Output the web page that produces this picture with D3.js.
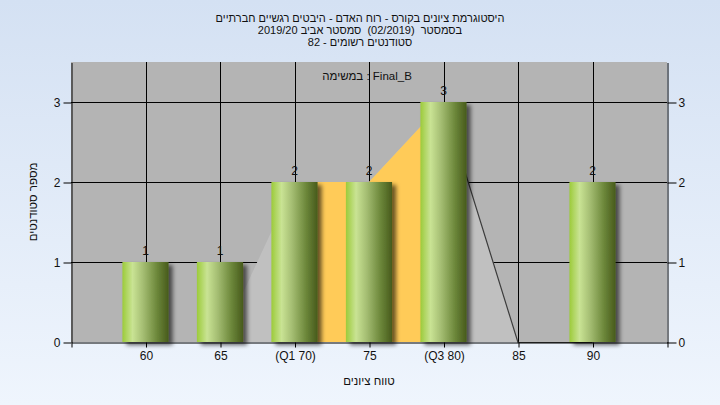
<!DOCTYPE html>
<html><head><meta charset="utf-8">
<script src="https://cdn.jsdelivr.net/npm/d3@7"></script>
<style>
html,body{margin:0;padding:0;overflow:hidden;}
svg{display:block;}
text{font-family:"Liberation Sans","DejaVu Sans",Arial,sans-serif;}
</style></head>
<body>
<svg id="c" width="720" height="405"></svg>
<script>
// ---- data ----
const titleLines = [
  "היסטוגרמת ציונים בקורס - רוח האדם - היבטים רגשיים חברתיים",
  "בסמסטר  (02/2019)  סמסטר אביב 2019/20",
  "סטודנטים רשומים - 82"
];
const seriesLabel = "במשימה : Final_B";
const yTitle = "מספר סטודנטים";
const xTitle = "טווח ציונים";
const categories = [60, 65, 70, 75, 80, 85, 90];
const tickLabels = ["60", "65", "(Q1 70)", "75", "(Q3 80)", "85", "90"];
const counts = [1, 1, 2, 2, 3, 0, 2];
const curveX = [65, 70, 75, 80, 85];
const curveY = [0, 2, 2, 3, 0];
const quartiles = [70, 80];
const edgeX = [80, 85, 90];
const edgeY = [3, 0, 0];
const yTicks = [0, 1, 2, 3];
const xDomain = [55, 95];
const yMax = 3.5;

// ---- layout ----
const svg = d3.select("#c");
const W = 720, H = 405;
const x = d3.scaleLinear().domain(xDomain).range([71, 667]);
const y = d3.scaleLinear().domain([0, yMax]).range([342, 62]);
const step = x(65) - x(60);
const barW = step * 0.62;

const defs = svg.append("defs");
const bg = defs.append("linearGradient").attr("id", "bg").attr("x1", 0).attr("y1", 0).attr("x2", 0).attr("y2", 1);
bg.append("stop").attr("offset", "0%").attr("stop-color", "#d4e1f3");
bg.append("stop").attr("offset", "100%").attr("stop-color", "#eff5fd");
const bar = defs.append("linearGradient").attr("id", "bar").attr("x1", 0).attr("y1", 0).attr("x2", 1).attr("y2", 0);
[["0%", "#9ccb3a"], ["22%", "#c9e394"], ["45%", "#a4bd72"], ["75%", "#6c873a"], ["100%", "#475a1c"]]
  .forEach(s => bar.append("stop").attr("offset", s[0]).attr("stop-color", s[1]));
const f = defs.append("filter").attr("id", "sh").attr("x", "-20%").attr("y", "-10%").attr("width", "160%").attr("height", "130%");
f.append("feDropShadow").attr("dx", 4).attr("dy", 3).attr("stdDeviation", 2)
  .attr("flood-color", "#000").attr("flood-opacity", 0.6);

svg.append("rect").attr("width", W).attr("height", H).attr("fill", "url(#bg)");

// plot background
svg.append("rect").attr("x", x(xDomain[0])).attr("y", y(yMax))
  .attr("width", x(xDomain[1]) - x(xDomain[0])).attr("height", y(0) - y(yMax))
  .attr("fill", "#b4b4b4");

// grid
const g = svg.append("g").attr("stroke", "#000").attr("stroke-width", 1);
g.selectAll("line.h").data(yTicks.filter(d => d > 0)).join("line")
  .attr("x1", x(xDomain[0])).attr("x2", x(xDomain[1]))
  .attr("y1", d => Math.round(y(d)) + 0.5).attr("y2", d => Math.round(y(d)) + 0.5);
g.selectAll("line.v").data(categories).join("line")
  .attr("y1", y(yMax)).attr("y2", y(0))
  .attr("x1", d => Math.round(x(d)) + 0.5).attr("x2", d => Math.round(x(d)) + 0.5);

// areas
const pts = curveX.map((d, i) => [d, curveY[i]]);
const area = d3.area().x(d => x(d[0])).y0(y(0)).y1(d => y(d[1]));
svg.append("path").attr("d", area(pts)).attr("fill", "#c0c0c0");
const interp = xv => {
  for (let i = 0; i < pts.length - 1; i++) {
    if (xv >= pts[i][0] && xv <= pts[i + 1][0]) {
      const t = (xv - pts[i][0]) / (pts[i + 1][0] - pts[i][0]);
      return pts[i][1] + t * (pts[i + 1][1] - pts[i][1]);
    }
  }
  return 0;
};
const iqrPts = [[quartiles[0], interp(quartiles[0])]]
  .concat(pts.filter(p => p[0] > quartiles[0] && p[0] < quartiles[1]))
  .concat([[quartiles[1], interp(quartiles[1])]]);
svg.append("path").attr("d", area(iqrPts)).attr("fill", "#ffcb58");

// edge line
const ePts = edgeX.map((d, i) => [d, edgeY[i]]);
svg.append("path").attr("d", d3.line().x(d => x(d[0])).y(d => y(d[1]) + 0.5)(ePts))
  .attr("fill", "none").attr("stroke", "#3c3c3c").attr("stroke-width", 1.2);

// bars
const data = categories.map((c, i) => ({ c, v: counts[i] })).filter(d => d.v > 0);
svg.append("g").selectAll("rect").data(data).join("rect")
  .attr("x", d => x(d.c) - barW / 2).attr("width", barW)
  .attr("y", d => y(d.v)).attr("height", d => y(0) - y(d.v))
  .attr("fill", "url(#bar)").attr("filter", "url(#sh)");

// value labels
svg.append("g").selectAll("text").data(data).join("text")
  .attr("x", d => x(d.c)).attr("y", d => y(d.v) - 7)
  .attr("text-anchor", "middle").attr("font-size", 12).attr("fill", "#111")
  .text(d => d.v);

// axes
const styleAxis = sel => {
  sel.selectAll("path").attr("stroke", "#000");
  sel.selectAll("line").attr("stroke", "#000");
  sel.selectAll("text").attr("font-size", 12).attr("fill", "#111")
    .attr("font-family", "'Liberation Sans','DejaVu Sans',Arial,sans-serif");
};
svg.append("g").attr("transform", "translate(71.5,0.5)")
  .call(d3.axisLeft(y).tickValues(yTicks).tickSize(8).tickSizeOuter(0).tickPadding(3).tickFormat(d3.format("d")))
  .call(styleAxis);
svg.append("g").attr("transform", "translate(667.5,0.5)")
  .call(d3.axisRight(y).tickValues(yTicks).tickSize(9).tickSizeOuter(0).tickPadding(2).tickFormat(d3.format("d")))
  .call(styleAxis);
const xTicks = [xDomain[0]].concat(categories, [xDomain[1]]);
svg.append("g").attr("transform", "translate(0.5,342.5)")
  .call(d3.axisBottom(x).tickValues(xTicks).tickSize(5).tickSizeOuter(0).tickPadding(4)
    .tickFormat(d => { const i = categories.indexOf(d); return i >= 0 ? tickLabels[i] : ""; }))
  .call(styleAxis);

// titles
svg.append("g").selectAll("text").data(titleLines).join("text")
  .attr("x", 360).attr("y", (d, i) => 22 + i * 12)
  .attr("text-anchor", "middle").attr("direction", "rtl").attr("font-size", 11).attr("fill", "#111")
  .style("white-space", "pre")
  .text(d => d);
svg.append("text").attr("x", 367).attr("y", 80).attr("text-anchor", "middle")
  .attr("font-size", 11.5).attr("fill", "#111").text(seriesLabel);
svg.append("text").attr("x", 369).attr("y", 385).attr("text-anchor", "middle").attr("direction", "rtl")
  .attr("font-size", 11.5).attr("fill", "#111").text(xTitle);
svg.append("text").attr("transform", "translate(37,202) rotate(-90)").attr("text-anchor", "middle").attr("direction", "rtl")
  .attr("font-size", 11.5).attr("fill", "#111").text(yTitle);
</script>
</body></html>
